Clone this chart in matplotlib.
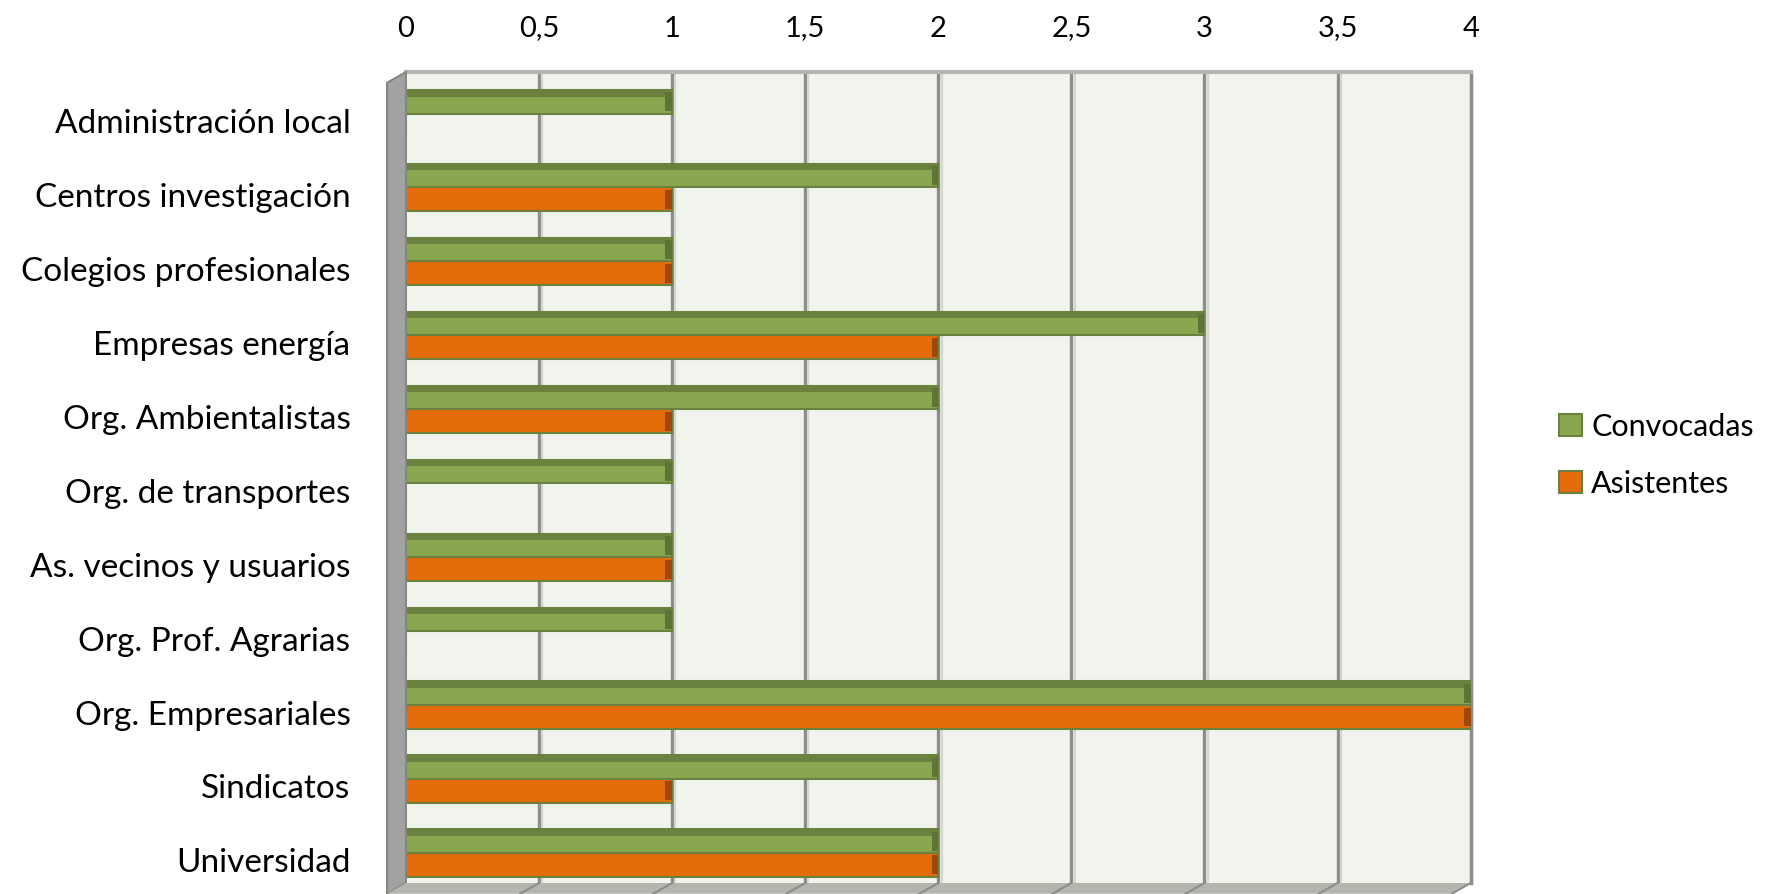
import matplotlib.pyplot as plt
from matplotlib.patches import Polygon, Patch

# ------------------------------
# Data
# ------------------------------
categorias = [
    "Administración local",
    "Centros investigación",
    "Colegios profesionales",
    "Empresas energía",
    "Org. Ambientalistas",
    "Org. de transportes",
    "As. vecinos y usuarios",
    "Org. Prof. Agrarias",
    "Org. Empresariales",
    "Sindicatos",
    "Universidad",
]
convocadas = [1, 2, 1, 3, 2, 1, 1, 1, 4, 2, 2]
asistentes = [0, 1, 1, 2, 1, 0, 1, 0, 4, 1, 2]
ticks = [0, 0.5, 1, 1.5, 2, 2.5, 3, 3.5, 4]
tick_labels = ["0", "0,5", "1", "1,5", "2", "2,5", "3", "3,5", "4"]

GREEN = "#8aa64f"
GREEN_DARK = "#6b8140"
ORANGE = "#e46c0a"
BG = "#f1f4ec"
WALL = "#a2a2a2"
FLOOR = "#b4b6ae"

plt.rcParams["font.family"] = ["Lato", "DejaVu Sans"]

fig = plt.figure(figsize=(17.82, 8.94), dpi=100)
ax = fig.add_axes([0.2278, 0.0123, 0.5975, 0.9071])
ax.set_facecolor(BG)

YTOP, YBOT = -0.561, 10.405
DEPTH_X, DEPTH_Y = 0.071, 0.145

y = list(range(len(categorias)))
h = 0.32
y_conv = [v - h / 2 for v in y]
y_asis = [v + h / 2 for v in y]

# ------------------------------
# grid lines
# ------------------------------
for t in ticks[1:-1]:
    ax.axvline(t, color="#8c8c8c", lw=2.4, zorder=1)
    ax.axvline(t + 0.012, color="#d4d6d0", lw=1.6, zorder=1)

# ------------------------------
# bars
# ------------------------------
ax.barh(y_conv, convocadas, height=h, color=GREEN,
        edgecolor=GREEN_DARK, linewidth=1.5, zorder=3)
ax.barh([v - h / 2 + 0.045 for v in y_conv], convocadas, height=0.09,
        color=GREEN_DARK, linewidth=0, zorder=4)
ax.barh(y_asis, asistentes, height=h, color=ORANGE,
        edgecolor=GREEN_DARK, linewidth=1.5, zorder=3)

# right caps (fake 3D end of the bars)
for yc, v in zip(y_conv, convocadas):
    ax.barh(yc, 0.025, left=v - 0.025, height=h * 0.8, color="#5f7338",
            linewidth=0, zorder=4)
for ya, v in zip(y_asis, asistentes):
    if v > 0:
        ax.barh(ya, 0.025, left=v - 0.025, height=h * 0.8, color="#a2470a",
                linewidth=0, zorder=4)

# ------------------------------
# left wall and floor (fake 3D)
# ------------------------------
wall = Polygon([(-DEPTH_X, YTOP + DEPTH_Y), (0, YTOP), (0, YBOT),
                (-DEPTH_X, YBOT + DEPTH_Y)],
               closed=True, facecolor=WALL, edgecolor="#868686",
               lw=1.5, clip_on=False, zorder=5)
ax.add_patch(wall)
floor = Polygon([(0, YBOT), (4, YBOT), (4 - DEPTH_X, YBOT + DEPTH_Y),
                 (-DEPTH_X, YBOT + DEPTH_Y)],
                closed=True, facecolor=FLOOR, edgecolor="none",
                clip_on=False, zorder=5)
ax.add_patch(floor)
for t in ticks[1:]:
    ax.plot([t, t - DEPTH_X], [YBOT, YBOT + DEPTH_Y], color="#8c8c8c",
            lw=1.5, clip_on=False, zorder=6)

ax.set_xlim(0, 4.0)
ax.set_ylim(YBOT, YTOP)
ax.xaxis.tick_top()
ax.set_xticks(ticks)
ax.set_xticklabels(tick_labels, fontsize=21)
ax.set_yticks([v + 0.1 for v in y])
ax.set_yticklabels(categorias, fontsize=24)
ax.tick_params(axis="y", length=0, pad=40)
ax.tick_params(axis="x", length=0, pad=22)

for side in ["left", "bottom"]:
    ax.spines[side].set_visible(False)
ax.spines["top"].set_color("#b5b5b5")
ax.spines["top"].set_linewidth(3)
ax.spines["right"].set_color("#8c8c8c")
ax.spines["right"].set_linewidth(2.5)

handles = [Patch(facecolor=GREEN, edgecolor=GREEN_DARK, lw=1.5, label="Convocadas"),
           Patch(facecolor=ORANGE, edgecolor=GREEN_DARK, lw=1.5, label="Asistentes")]
fig.legend(handles=handles, loc="center left", bbox_to_anchor=(0.868, 0.491),
           frameon=False, fontsize=22, handlelength=0.75, handleheight=0.75,
           handletextpad=0.3, labelspacing=0.95, borderaxespad=0)

fig.savefig("out.png", dpi=100)
